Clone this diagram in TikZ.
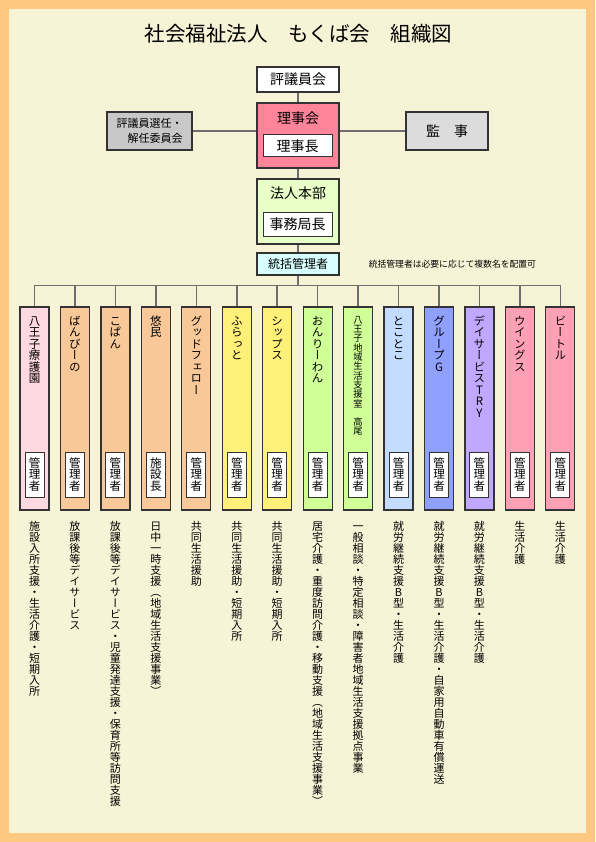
\documentclass[tikz,border=0pt]{standalone}
\usepackage{fontspec}
\usepackage{graphicx}
\setmainfont{Noto Sans CJK JP}
\newfontfamily\tatefont[RawFeature=+vert]{Noto Sans CJK JP}
\usepackage{tikz}
\usetikzlibrary{positioning}
\definecolor{mk_frame}{HTML}{FFC880}
\definecolor{mk_paper}{HTML}{F7F3D6}
\definecolor{mk_line}{HTML}{6E6E6E}
\definecolor{mk_edge}{HTML}{333333}
\definecolor{mk_pink}{HTML}{FF8499}
\definecolor{mk_gray}{HTML}{C8C8C8}
\definecolor{mk_lgray}{HTML}{DCDCDC}
\definecolor{mk_green}{HTML}{E8FFC8}
\definecolor{mk_cyan}{HTML}{D8FFFF}
\definecolor{mk_c1}{HTML}{FFD9E1}
\definecolor{mk_c2}{HTML}{F8C898}
\definecolor{mk_c3}{HTML}{FFF07A}
\definecolor{mk_c4}{HTML}{D0FF98}
\definecolor{mk_c5}{HTML}{C4DCFF}
\definecolor{mk_c6}{HTML}{90A0FF}
\definecolor{mk_c7}{HTML}{C0A8FF}
\definecolor{mk_c8}{HTML}{FFA0B4}
% vertical text: one character per line
\makeatletter
\newcommand\tate[1]{\vbox{\offinterlineskip\tatefont\@tfor\tch:=#1\do{%
  \hbox to 1em{\hss\vrule height .88em depth .12em width 0pt\relax\tch\hss}}}}
\makeatother
\newcommand\tatex[1]{\expandafter\tate\expandafter{#1}}

\begin{document}
\begin{tikzpicture}[x=1pt, y=-1pt,
      box/.style={draw=mk_edge, line width=1.2pt, fill=white, inner sep=0pt, minimum width=82pt},
      inbox/.style={draw=mk_edge, line width=1pt, fill=white, inner sep=0pt, minimum width=69pt, minimum height=22pt,
        font=\fontsize{14pt}{16pt}\selectfont},
      col/.style={draw=mk_edge, line width=1.2pt, inner sep=0pt, minimum width=29pt, minimum height=203pt},
      mgrbox/.style={draw=mk_edge, line width=1pt, fill=white, inner sep=0pt, minimum width=19pt, minimum height=45pt,
        font=\fontsize{11.5pt}{11.5pt}\selectfont},
      conn/.style={draw=mk_line, line width=1.5pt},
      big/.style={font=\fontsize{14pt}{16pt}\selectfont},
      desc/.style={anchor=north, inner sep=0pt, font=\fontsize{11pt}{11pt}\selectfont}]
    % frame
    \fill[mk_frame] (0,0) rectangle (595,842);
    \fill[mk_paper] (9,9) rectangle (586,833);
    \node[font=\fontsize{20.5pt}{22pt}\selectfont] (title) at (298.5,34) {社会福祉法人　もくば会　組織図};
    % top of the chart
    \node[box, big, minimum height=25pt] (hyogi) at (298,79.5) {評議員会};
    \node[box, fill=mk_pink, minimum height=65pt] (riji) at (298,135.5) {};
    \node[big, inner sep=0pt] (rijikai) at (298,118.5) {理事会};
    \node[inbox] (rijicho) at (297.5,146) {理事長};
    \node[box, fill=mk_gray, minimum width=85pt, minimum height=38pt, align=right,
      font=\fontsize{11pt}{15pt}\selectfont] (senin) at (149.5,131) {評議員選任・\\解任委員会};
    \node[box, big, fill=mk_lgray, minimum height=38pt] (kanji) at (447,131) {監　事};
    \node[box, fill=mk_green, minimum height=65pt] (honbu) at (298,211.5) {};
    \node[big, inner sep=0pt] (honbut) at (298,193) {法人本部};
    \node[inbox, minimum height=23pt] (jimu) at (297.5,224.5) {事務局長};
    \node[box, fill=mk_cyan, minimum height=22pt, font=\fontsize{12pt}{14pt}\selectfont] (tokatsu) at (298,264) {統括管理者};
    \node[right=29pt of tokatsu, inner sep=0pt, font=\fontsize{8.8pt}{10pt}\selectfont] (note)
      {統括管理者は必要に応じて複数名を配置可};
    \draw[conn] (hyogi) -- (riji);
    \draw[conn] (senin.east) -- (senin.east -| riji.west);
    \draw[conn] (riji.east |- kanji.west) -- (kanji.west);
    \draw[conn] (riji) -- (honbu);
    \draw[conn] (honbu) -- (tokatsu);
    \draw[conn] (tokatsu.south) -- ++(0,10) coordinate (bus);
    % offices
    \foreach \i/\cc/\tsize/\name/\mgr/\desc in {
        1/mk_c1/11.5/八王子療護園/管理者/施設入所支援・生活介護・短期入所,
        2/mk_c2/11.5/ばんびーの/管理者/放課後等デイサービス,
        3/mk_c2/11.5/こぱん/管理者/放課後等デイサービス・児童発達支援・保育所等訪問支援,
        4/mk_c2/11.5/悠民/施設長/日中一時支援︵地域生活支援事業︶,
        5/mk_c2/11.5/グッドフェロー/管理者/共同生活援助,
        6/mk_c3/11.5/ふらっと/管理者/共同生活援助・短期入所,
        7/mk_c3/11.5/シップス/管理者/共同生活援助・短期入所,
        8/mk_c4/11.5/おんりーわん/管理者/居宅介護・重度訪問介護・移動支援︵地域生活支援事業︶,
        9/mk_c4/9.3/八王子地域生活支援室　高尾/管理者/一般相談・特定相談・障害者地域生活支援拠点事業,
        10/mk_c5/11.5/とことこ/管理者/就労継続支援B型・生活介護,
        11/mk_c6/11.5/グループG/管理者/就労継続支援B型・生活介護・自家用自動車有償運送,
        12/mk_c7/11.5/デイサービスTRY/管理者/就労継続支援B型・生活介護,
        13/mk_c8/11.5/ウイングス/管理者/生活介護,
        14/mk_c8/11.5/ビートル/管理者/生活介護}{
      \pgfmathsetmacro\xc{34.5+40.45*(\i-1)}
      \node[col, fill=\cc] (c\i) at (\xc,408.5) {};
      \node[anchor=north, inner sep=0pt, font=\fontsize{\tsize pt}{\tsize pt}\selectfont] (t\i) at (\xc,315) {\tatex\name};
      \node[mgrbox] (m\i) at (\xc,474.5) {\tatex\mgr};
      \node[desc] (d\i) at (\xc,521) {\tatex\desc};
      \draw[conn] (bus) -| (c\i.north);
    }
\end{tikzpicture}
\end{document}
